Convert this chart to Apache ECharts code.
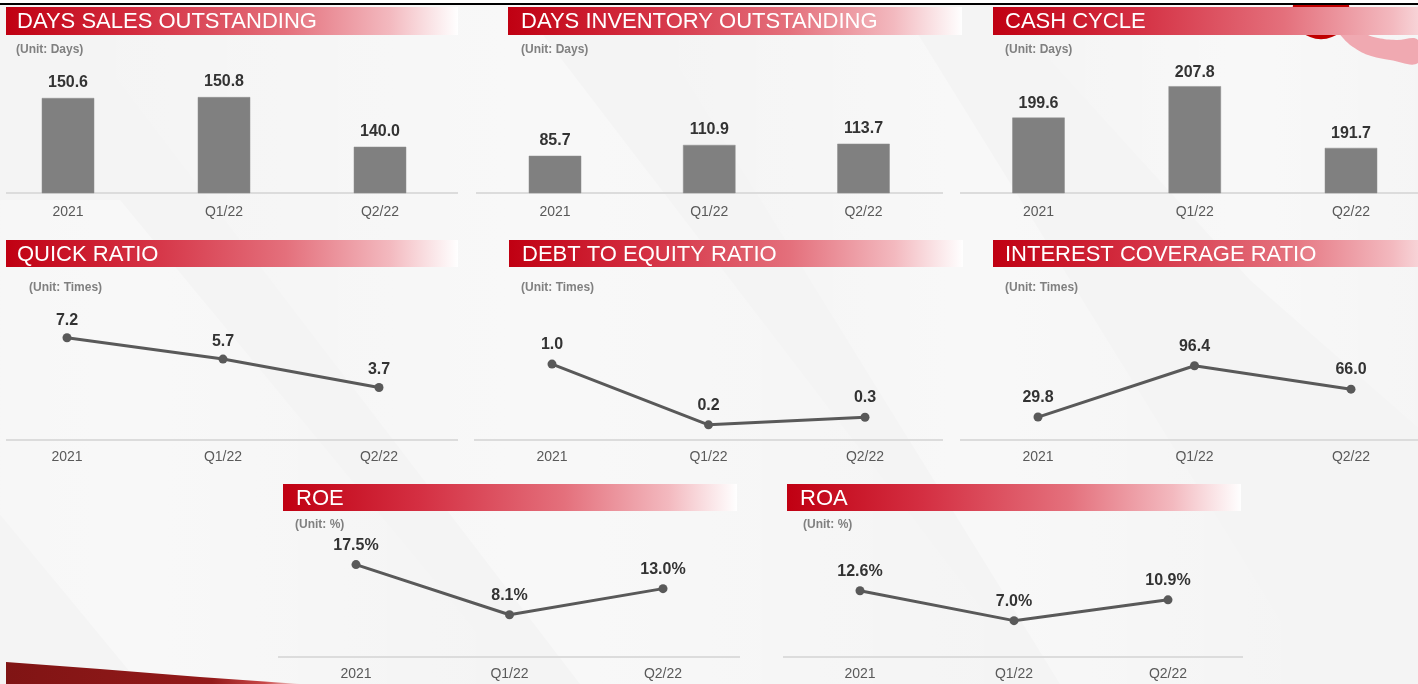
<!DOCTYPE html>
<html>
<head>
<meta charset="utf-8">
<script src="https://cdn.jsdelivr.net/npm/echarts@6/dist/echarts.min.js"></script>
<style>
  html, body { margin: 0; padding: 0; background: #ffffff; }
  #chart { width: 1418px; height: 684px; }
</style>
</head>
<body>
<div id="chart"></div>
<script>
// ---- data ----
const categories = ['2021', 'Q1/22', 'Q2/22'];
const dsoValues = [150.6, 150.8, 140.0];
const dioValues = [85.7, 110.9, 113.7];
const cashCycleValues = [199.6, 207.8, 191.7];
const quickRatioValues = [7.2, 5.7, 3.7];
const debtToEquityValues = [1.0, 0.2, 0.3];
const interestCoverageValues = [29.8, 96.4, 66.0];
const roeValues = [17.5, 8.1, 13.0];
const roaValues = [12.6, 7.0, 10.9];
const panelTitles = ['DAYS SALES OUTSTANDING', 'DAYS INVENTORY OUTSTANDING', 'CASH CYCLE',
  'QUICK RATIO', 'DEBT TO EQUITY RATIO', 'INTEREST COVERAGE RATIO', 'ROE', 'ROA'];
const panelUnits = ['(Unit: Days)', '(Unit: Days)', '(Unit: Days)',
  '(Unit: Times)', '(Unit: Times)', '(Unit: Times)', '(Unit: %)', '(Unit: %)'];
const panelSeries = [dsoValues, dioValues, cashCycleValues, quickRatioValues,
  debtToEquityValues, interestCoverageValues, roeValues, roaValues];
const panelKinds = ['bar', 'bar', 'bar', 'line', 'line', 'line', 'line', 'line'];
const panelSuffix = ['', '', '', '', '', '', '%', '%'];

// ---- layout (positions / styles only) ----
// grid spans from first category centre to last category centre (boundaryGap: false)
const layout = [
  { grid: { left: 68, width: 312, top: 55, height: 138 }, min: 130, max: 160, band: [6, 7, 452, 28], titleX: 17, unitX: 16, unitY: 50, axis: [6, 458, 193], margin: 12, lblDist: 7 },
  { grid: { left: 555, width: 308.5, top: 55, height: 138 }, min: 0, max: 320, band: [508, 7, 454, 28], titleX: 521, unitX: 521, unitY: 50, axis: [476, 943, 193], margin: 12, lblDist: 7 },
  { grid: { left: 1038.5, width: 312.5, top: 55, height: 138 }, min: 180, max: 216, band: [993, 7, 470, 28], titleX: 1005, unitX: 1005, unitY: 50, axis: [960, 1418, 193], margin: 12, lblDist: 6 },
  { grid: { left: 67, width: 312, top: 298, height: 142 }, min: 0, max: 10, band: [6, 240, 452, 27], titleX: 17, unitX: 29, unitY: 288, axis: [6, 458, 440], margin: 10, lblDist: 5 },
  { grid: { left: 552, width: 313, top: 298, height: 142 }, min: 0, max: 1.87, band: [509, 240, 454, 27], titleX: 522, unitX: 521, unitY: 288, axis: [474, 943, 440], margin: 10, lblDist: 7 },
  { grid: { left: 1038, width: 313, top: 298, height: 142 }, min: 0, max: 184.4, band: [993, 240, 470, 27], titleX: 1005, unitX: 1005, unitY: 288, axis: [960, 1418, 440], margin: 10, lblDist: 7 },
  { grid: { left: 356, width: 307, top: 531, height: 127 }, min: 0, max: 23.8, band: [283, 484, 454, 27], titleX: 296, unitX: 295, unitY: 525, axis: [278, 740, 657], margin: 9, lblDist: 7 },
  { grid: { left: 860, width: 308, top: 531, height: 127 }, min: 0, max: 23.8, band: [787, 484, 454, 27], titleX: 800, unitX: 803, unitY: 525, axis: [783, 1243, 657], margin: 9, lblDist: 7 }
];

const FONT = '"Liberation Sans", Arial, Helvetica, sans-serif';
const VALUE_FONT = 'bold 16px ' + FONT;
const bandGradient = {
  type: 'linear', x: 0, y: 0, x2: 1, y2: 0,
  colorStops: [
    { offset: 0, color: '#c00012' },
    { offset: 0.3, color: '#d42f42' },
    { offset: 0.62, color: '#e4707c' },
    { offset: 0.85, color: '#f3b9bf' },
    { offset: 1, color: 'rgba(255,255,255,0.95)' }
  ]
};
const softStreak = {
  type: 'linear', x: 0, y: 0, x2: 1, y2: 0,
  colorStops: [
    { offset: 0, color: 'rgba(255,255,255,0)' },
    { offset: 0.5, color: 'rgba(255,255,255,0.4)' },
    { offset: 1, color: 'rgba(255,255,255,0)' }
  ]
};

const graphics = [];
// background
graphics.push({ type: 'rect', z: -10, silent: true, shape: { x: 0, y: 0, width: 1418, height: 684 }, style: { fill: '#f4f4f4' } });
// subtle diagonal light streaks (soft edges)
[
  [[60, 5], [520, 5], [1040, 684], [580, 684]],
  [[640, 5], [900, 5], [1320, 684], [1060, 684]],
  [[1000, 5], [1500, 5], [1500, 500], [1250, 280]],
  [[-260, 200], [120, 200], [520, 684], [140, 684]]
].forEach(pts => graphics.push({ type: 'polygon', z: -9, silent: true, shape: { points: pts }, style: { fill: softStreak } }));
// top white strip and black rule
graphics.push({ type: 'rect', z: 20, silent: true, shape: { x: 0, y: 0, width: 1418, height: 3 }, style: { fill: '#ffffff' } });
graphics.push({ type: 'rect', z: 20, silent: true, shape: { x: 0, y: 3, width: 1418, height: 2 }, style: { fill: '#000000' } });
// decoration top-right
graphics.push({ type: 'circle', z: -5, silent: true, shape: { cx: 1321, cy: 10.7, r: 28.6 }, style: { fill: '#c00000' } });
graphics.push({ type: 'polygon', z: -5, silent: true, shape: { smooth: 0.4, points: [[1338, 30], [1343, 38], [1353, 47], [1368, 55], [1390, 60], [1418, 63], [1418, 40], [1396, 40], [1378, 38], [1366, 34], [1362, 30]] }, style: { fill: '#f0a9b1' } });
// decoration bottom-left
graphics.push({ type: 'polygon', z: -5, silent: true, shape: { points: [[6, 662], [100, 669], [200, 677], [300, 684], [6, 684]] }, style: { fill: { type: 'linear', x: 0, y: 0, x2: 1, y2: 0, colorStops: [ { offset: 0, color: '#801414' }, { offset: 0.7, color: '#931a1a' }, { offset: 0.88, color: '#c94848' }, { offset: 1, color: '#f6d6d6' } ] } } });

const grids = [], xAxes = [], yAxes = [], series = [];
layout.forEach((L, i) => {
  // header band
  graphics.push({ type: 'rect', z: 1, silent: true, shape: { x: L.band[0], y: L.band[1], width: L.band[2], height: L.band[3] }, style: { fill: bandGradient } });
  graphics.push({ type: 'text', z: 2, silent: true, x: L.titleX, y: L.band[1] + L.band[3] / 2 + 1,
    style: { text: panelTitles[i], fill: '#ffffff', font: '22px ' + FONT, textVerticalAlign: 'middle', verticalAlign: 'middle' } });
  graphics.push({ type: 'text', z: 2, silent: true, x: L.unitX, y: L.unitY,
    style: { text: panelUnits[i], fill: '#808080', font: 'bold 12px ' + FONT, textVerticalAlign: 'middle', verticalAlign: 'middle' } });
  // baseline
  graphics.push({ type: 'line', z: 1, silent: true, shape: { x1: L.axis[0], y1: L.axis[2], x2: L.axis[1], y2: L.axis[2] }, style: { stroke: '#dcdcdc', lineWidth: 2 } });

  grids.push(Object.assign({ containLabel: false }, L.grid));
  xAxes.push({
    type: 'category', gridIndex: i, data: categories, boundaryGap: false,
    axisLine: { show: false }, axisTick: { show: false }, splitLine: { show: false },
    axisLabel: { color: '#595959', fontSize: 14, fontFamily: FONT, margin: L.margin, interval: 0 }
  });
  yAxes.push({ type: 'value', gridIndex: i, min: L.min, max: L.max, show: false, splitLine: { show: false } });
  const suffix = panelSuffix[i];
  const pairs = panelSeries[i].map((v, j) => [categories[j], v]);
  if (panelKinds[i] === 'bar') {
    const yMin = L.min;
    const dist = L.lblDist;
    series.push({
      type: 'custom', xAxisIndex: i, yAxisIndex: i, data: pairs, encode: { x: 0, y: 1 }, clip: false,
      silent: true, animation: false, z: 3,
      renderItem: (params, api) => {
        const xi = api.value(0);
        const v = api.value(1);
        const top = api.coord([xi, v]);
        const base = api.coord([xi, yMin]);
        return {
          type: 'rect',
          shape: { x: top[0] - 26, y: top[1], width: 52, height: base[1] - top[1] },
          style: { fill: '#808080', stroke: '#8e8e8e', lineWidth: 0.5 },
          textContent: { style: { text: v.toFixed(1) + suffix, fill: '#333333', font: VALUE_FONT } },
          textConfig: { position: 'top', distance: dist }
        };
      }
    });
  } else {
    series.push({ type: 'line', xAxisIndex: i, yAxisIndex: i, data: pairs, clip: false, z: 3,
      symbol: 'circle', symbolSize: 9, lineStyle: { color: '#595959', width: 3 },
      itemStyle: { color: '#595959' }, silent: true, animation: false,
      label: { show: true, position: 'top', distance: L.lblDist, color: '#333333', fontSize: 16, fontWeight: 'bold', fontFamily: FONT,
        formatter: p => p.value[1].toFixed(1) + suffix } });
  }
});

const chart = echarts.init(document.getElementById('chart'), null, { renderer: 'canvas' });
chart.setOption({
  animation: false,
  backgroundColor: '#f4f4f4',
  grid: grids, xAxis: xAxes, yAxis: yAxes, series: series, graphic: graphics
});
</script>
</body>
</html>
